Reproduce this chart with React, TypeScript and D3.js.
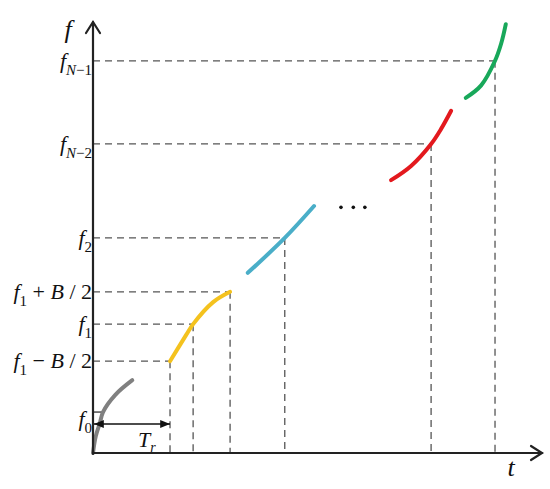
import * as d3 from "d3";

// time axis: one unit = one ramp period T_r
const tMax = 5.83;
const fMax = 100;

// frequency levels marked on the f axis, and where each is crossed in time
const levelNames = ["f1-B/2", "f1", "f1+B/2", "f2", "fN-2", "fN-1"];
const levelF = [21.3, 29.9, 37.4, 49.9, 71.7, 91.0];
const levelT = [1.0, 1.3, 1.78, 2.49, 4.39, 5.22];
const f0Value = 9.5;

// chirp segments
const segments = [
  { color: "#808080", t: [0, 0.035, 0.09, 0.13, 0.29, 0.51], f: [0, 3.8, 7.0, 9.5, 13.5, 16.9] },
  { color: "#f4c21e", t: [1.0, 1.21, 1.3, 1.56, 1.78], f: [21.3, 27.4, 29.9, 35.0, 37.4] },
  { color: "#4aaec8", t: [2.01, 2.49, 2.87], f: [41.8, 49.9, 57.3] },
  { color: "#e3191e", t: [3.87, 4.13, 4.39, 4.52, 4.65], f: [63.3, 66.6, 71.7, 75.2, 79.4] },
  { color: "#18a85a", t: [4.84, 5.04, 5.22, 5.3, 5.36], f: [82.4, 85.3, 91.0, 95.0, 99.5] },
];

const ellipsisT = [3.22, 3.38, 3.53];
const ellipsisF = 57.0;

const W = 550;
const H = 489;
const x = d3.scaleLinear().domain([0, tMax]).range([93, 542]);
const y = d3.scaleLinear().domain([0, fMax]).range([453, 22]);

const serif = "'Liberation Serif', 'Times New Roman', serif";
const dash = "7,5";
const dashColor = "#555";

function LevelLabel({ name, yy }: { name: string; yy: number }) {
  const base = yy + 7;
  let content;
  if (name === "f1" || name === "f2") {
    content = (
      <>
        <tspan fontStyle="italic">f</tspan>
        <tspan fontSize={15} dy={7}>{name.slice(1)}</tspan>
      </>
    );
  } else if (name === "f1+B/2" || name === "f1-B/2") {
    const op = name === "f1+B/2" ? "+" : "\u2212";
    content = (
      <>
        <tspan fontStyle="italic">f</tspan>
        <tspan fontSize={15} dy={7}>1</tspan>
        <tspan dy={-7}>{` ${op} `}</tspan>
        <tspan fontStyle="italic">B</tspan>
        <tspan>{" / 2"}</tspan>
      </>
    );
  } else {
    const n = name === "fN-1" ? "1" : "2";
    content = (
      <>
        <tspan fontStyle="italic">f</tspan>
        <tspan fontSize={15} fontStyle="italic" dy={7}>N</tspan>
        <tspan fontSize={15}>{`\u2212${n}`}</tspan>
      </>
    );
  }
  return (
    <text x={92} y={base} textAnchor="end" fontSize={22} fill="#111">
      {content}
    </text>
  );
}

export default function App() {
  const line = d3
    .line<[number, number]>()
    .x((d) => x(d[0]))
    .y((d) => y(d[1]))
    .curve(d3.curveCatmullRom.alpha(0.5));

  const x0 = x(0);
  const y0 = y(0);
  const yTop = y(fMax);
  const xEnd = x(tMax);
  const yTr = 424;

  return (
    <svg
      width={W}
      height={H}
      style={{ position: "absolute", left: 0, top: 0, background: "#fff", fontFamily: serif }}
    >
      <defs>
        <marker id="arr" viewBox="0 0 10 10" refX="10" refY="5" markerWidth="7" markerHeight="7" orient="auto-start-reverse">
          <path d="M0,1 L10,5 L0,9 z" fill="#111" />
        </marker>
      </defs>

      {/* guide lines */}
      <g stroke={dashColor} strokeWidth={1.3} strokeDasharray={dash} fill="none">
        {levelF.map((f, i) => (
          <line key={"h" + i} x1={x0} x2={x(levelT[i])} y1={y(f)} y2={y(f)} />
        ))}
        {levelF.map((f, i) => (
          <line key={"v" + i} x1={x(levelT[i])} x2={x(levelT[i])} y1={y(f)} y2={y0} />
        ))}
      </g>

      {/* f0 tick */}
      <line x1={x0} x2={x0 + 12} y1={y(f0Value)} y2={y(f0Value)} stroke="#333" strokeWidth={1.3} />

      {/* segments */}
      {segments.map((s, i) => (
        <path
          key={i}
          d={line(s.t.map((t, j) => [t, s.f[j]] as [number, number])) || ""}
          fill="none"
          stroke={s.color}
          strokeWidth={4}
          strokeLinecap="round"
        />
      ))}

      {ellipsisT.map((t, i) => (
        <circle key={i} cx={x(t)} cy={y(ellipsisF)} r={1.8} fill="#111" />
      ))}

      {/* axes */}
      <g stroke="#222" strokeWidth={2.2} fill="none" strokeLinecap="round">
        <line x1={x0} x2={x0} y1={y0 + 1} y2={yTop} />
        <line x1={x0} x2={xEnd} y1={y0} y2={y0} />
        <path d={`M${x0 - 7},${yTop + 11} L${x0},${yTop} L${x0 + 7},${yTop + 11}`} />
        <path d={`M${xEnd - 11},${y0 - 7} L${xEnd},${y0} L${xEnd - 11},${y0 + 7}`} />
      </g>

      {/* T_r arrow */}
      <line
        x1={x0 + 1}
        x2={x(1)}
        y1={yTr}
        y2={yTr}
        stroke="#111"
        strokeWidth={1.4}
        markerStart="url(#arr)"
        markerEnd="url(#arr)"
      />
      <text x={138} y={447} fontSize={22} fill="#111">
        <tspan fontStyle="italic">T</tspan>
        <tspan fontSize={14} fontStyle="italic" dy={5}>r</tspan>
      </text>

      {/* labels */}
      {levelNames.map((n, i) => (
        <LevelLabel key={n} name={n} yy={y(levelF[i])} />
      ))}
      <text x={92} y={y(f0Value) + 14} textAnchor="end" fontSize={22} fill="#111">
        <tspan fontStyle="italic">f</tspan>
        <tspan fontSize={15} dy={7}>0</tspan>
      </text>
      <text x={68} y={38} textAnchor="middle" fontSize={26} fontStyle="italic" fill="#111">
        f
      </text>
      <text x={511} y={476} textAnchor="middle" fontSize={26} fontStyle="italic" fill="#111">
        t
      </text>
    </svg>
  );
}
